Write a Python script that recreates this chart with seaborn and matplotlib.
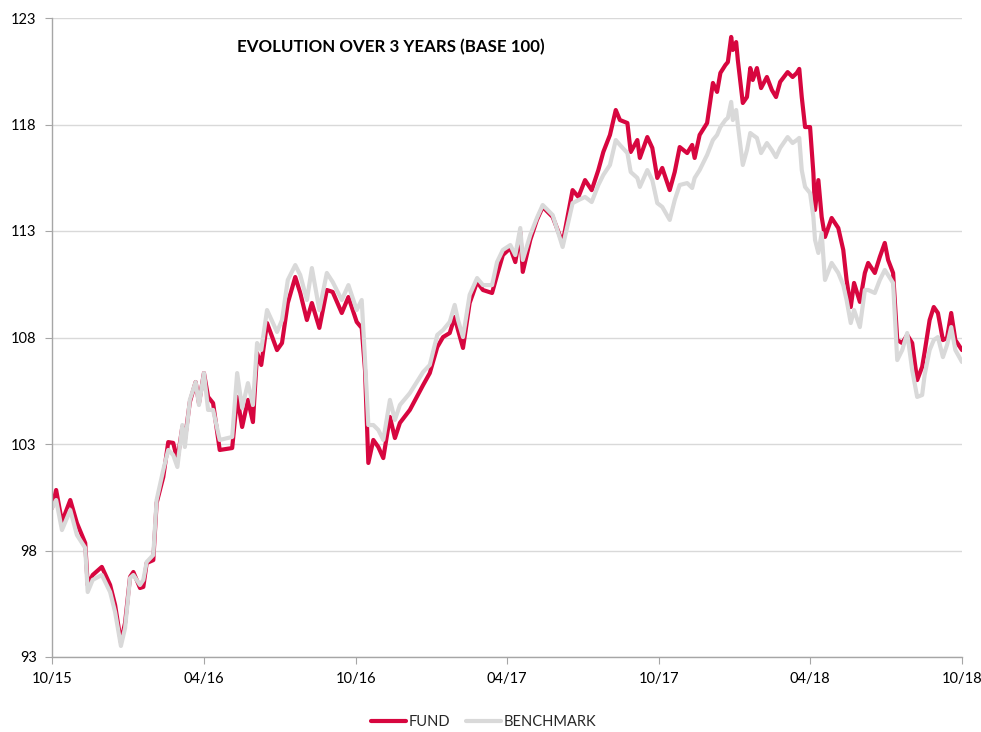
import numpy as np
import pandas as pd
import matplotlib
matplotlib.use("Agg")
import matplotlib.pyplot as plt
import matplotlib.dates as mdates
import seaborn as sns

# ---------------- data ----------------
START = "2015-10-01"
# days since START
days = [0, 5, 12, 22, 30, 40, 43, 49, 60, 70, 76, 83, 88, 94, 98, 106, 110, 114, 122, 126,
        134, 140, 146, 151, 157, 160, 166, 173, 177, 183, 188, 194, 202, 217, 223, 229, 236, 242, 247, 252,
        259, 271, 277, 284, 293, 299, 307, 313, 322, 331, 338, 349, 357, 367, 373, 377, 381, 387, 393, 399,
        407, 413, 419, 431, 447, 455, 464, 471, 479, 485, 489, 495, 503, 512, 519, 530, 536, 543, 552, 558,
        564, 567, 576, 584, 591, 603, 615, 627, 634, 642, 650, 658, 664, 672, 679, 684, 693, 697, 705, 708,
        717, 723, 729, 735, 744, 750, 756, 765, 771, 774, 780, 789, 796, 801, 805, 811, 814, 818, 820, 824,
        826, 832, 837, 841, 844, 849, 854, 861, 867, 872, 877, 886, 892, 897, 900, 903, 907, 913, 917, 919,
        923, 927, 931, 939, 947, 953, 957, 962, 966, 973, 979, 983, 991, 997, 1003, 1007, 1013, 1018, 1024, 1030,
        1036, 1042, 1048, 1051, 1057, 1062, 1067, 1073, 1078, 1083, 1088, 1096]

fund = [100.0, 100.84, 99.34, 100.37, 99.29, 98.35, 96.38, 96.85, 97.23, 96.38, 95.44, 93.70, 94.60, 96.76, 96.99, 96.24, 96.29, 97.41, 97.55, 100.23,
        101.45, 103.09, 103.05, 102.25, 103.80, 103.19, 104.97, 105.91, 104.92, 106.33, 105.21, 104.92, 102.72, 102.81, 105.21, 103.80, 105.07, 104.03, 107.27, 106.71,
        108.68, 107.41, 107.74, 109.62, 110.84, 110.09, 108.82, 109.62, 108.45, 110.23, 110.14, 109.15, 109.90, 108.73, 108.45, 106.47, 102.11, 103.19, 102.86, 102.34,
        104.27, 103.28, 103.99, 104.60, 105.77, 106.33, 107.55, 108.02, 108.21, 108.96, 108.35, 107.51, 109.62, 110.61, 110.23, 110.09, 110.93, 111.87, 112.20, 111.54,
        112.95, 111.08, 112.58, 113.52, 114.13, 113.66, 112.44, 114.92, 114.60, 115.39, 114.92, 115.86, 116.71, 117.51, 118.68, 118.21, 118.07, 116.71, 117.27, 116.43,
        117.41, 116.90, 115.49, 115.96, 114.92, 115.77, 116.94, 116.66, 117.04, 116.43, 117.51, 118.07, 119.95, 119.53, 120.42, 120.79, 120.93, 122.11, 121.50, 121.87,
        121.03, 119.01, 119.29, 120.65, 120.09, 120.65, 119.71, 120.23, 119.62, 119.29, 120.00, 120.46, 120.23, 120.42, 120.61, 119.29, 117.88, 117.88, 115.72, 113.99,
        115.39, 113.66, 112.72, 113.61, 113.14, 112.11, 110.70, 109.43, 110.56, 109.67, 111.03, 111.50, 111.03, 111.78, 112.44, 111.64, 111.03, 107.88, 107.74, 108.12,
        107.74, 106.00, 106.62, 107.32, 108.82, 109.43, 109.15, 107.88, 107.98, 109.15, 107.88, 107.41]

benchmark = [100.0, 100.37, 98.96, 99.90, 98.73, 98.12, 96.05, 96.62, 96.85, 96.05, 95.11, 93.52, 94.36, 96.71, 96.85, 96.38, 96.62, 97.46, 97.79, 100.37,
             101.78, 102.72, 102.48, 101.92, 103.89, 102.86, 105.07, 105.91, 104.83, 106.33, 104.60, 104.60, 103.19, 103.33, 106.33, 104.69, 105.86, 104.83, 107.74, 107.41,
             109.29, 108.26, 108.82, 110.70, 111.40, 110.93, 109.76, 111.26, 109.29, 111.03, 110.61, 109.76, 110.46, 109.29, 109.76, 106.94, 103.89, 103.89, 103.66, 103.19,
             105.07, 104.13, 104.83, 105.39, 106.38, 106.71, 108.12, 108.35, 108.73, 109.53, 108.82, 108.02, 110.00, 110.79, 110.46, 110.46, 111.54, 112.11, 112.34, 111.87,
             113.14, 111.64, 112.81, 113.61, 114.22, 113.75, 112.25, 114.31, 114.45, 114.60, 114.36, 115.16, 115.63, 116.10, 117.27, 117.04, 116.66, 115.77, 115.49, 115.07,
             115.86, 115.39, 114.31, 114.13, 113.52, 114.45, 115.16, 115.25, 115.02, 115.49, 115.86, 116.57, 117.27, 117.51, 117.88, 118.21, 118.31, 119.06, 118.21, 118.68,
             117.98, 116.10, 116.80, 117.60, 117.51, 117.37, 116.66, 117.13, 116.80, 116.47, 116.90, 117.41, 117.13, 117.27, 117.37, 115.86, 115.07, 114.78, 113.66, 112.58,
             111.97, 112.91, 110.70, 111.50, 111.03, 110.46, 109.76, 108.68, 109.29, 108.49, 110.23, 110.23, 110.09, 110.70, 111.17, 110.93, 110.56, 106.94, 107.41, 108.21,
             106.47, 105.21, 105.30, 106.24, 107.41, 107.88, 108.02, 107.08, 107.65, 108.49, 107.41, 106.85]

series_names = ["FUND", "BENCHMARK"]
series_colors = ["#D7063F", "#D9D9D9"]
tick_dates = ["2015-10-01", "2016-04-01", "2016-10-01", "2017-04-01",
              "2017-10-01", "2018-04-01", "2018-10-01"]
y_ticks = [93, 98, 103, 108, 113, 118, 123]
title = "EVOLUTION OVER 3 YEARS (BASE 100)"

# ---------------- build long frame ----------------
dates = pd.to_datetime(START) + pd.to_timedelta(days, unit="D")
df = pd.concat([
    pd.DataFrame({"date": dates, "value": fund, "series": "FUND"}),
    pd.DataFrame({"date": dates, "value": benchmark, "series": "BENCHMARK"}),
], ignore_index=True)

sns.set_style("white")
plt.rcParams["font.family"] = ["Lato", "DejaVu Sans"]

fig = plt.figure(figsize=(9.81, 7.32), dpi=100)
ax = fig.add_axes([52 / 981, 1 - 657 / 732, 910 / 981, 639 / 732])

sns.lineplot(data=df, x="date", y="value", hue="series", hue_order=series_names,
             palette=dict(zip(series_names, series_colors)), estimator=None,
             linewidth=3.0, ax=ax, legend=False)

# axes styling
ax.set_xlim(pd.to_datetime(tick_dates[0]), pd.to_datetime(tick_dates[-1]))
ax.set_ylim(y_ticks[0], y_ticks[-1])
ax.set_yticks(y_ticks)
ax.set_xticks(pd.to_datetime(tick_dates))
ax.xaxis.set_major_formatter(mdates.DateFormatter("%m/%y"))
ax.set_xlabel("")
ax.set_ylabel("")
ax.grid(axis="y", color="#D9D9D9", linewidth=1)
ax.grid(axis="x", visible=False)
for side in ["top", "right"]:
    ax.spines[side].set_visible(False)
for side in ["left", "bottom"]:
    ax.spines[side].set_color("#A6A6A6")
    ax.spines[side].set_linewidth(1)
ax.tick_params(axis="both", length=5, color="#A6A6A6", labelsize=10.5,
               labelcolor="#000000", direction="out", left=True, bottom=True)
ax.tick_params(axis="y", pad=6)
ax.tick_params(axis="x", pad=6)

ax.text(0.203, 0.955, title, transform=ax.transAxes, ha="left", va="center",
        fontsize=12.2, fontweight="bold", color="#000000")

# legend at the bottom
handles = [plt.Line2D([], [], color=c, linewidth=3) for c in series_colors]
fig.legend(handles, series_names, loc="center", bbox_to_anchor=(0.493, 0.014),
           ncol=2, frameon=False, fontsize=10.5, handlelength=2.4,
           handletextpad=0.2, columnspacing=1.1)

fig.savefig("out.png", dpi=100)
